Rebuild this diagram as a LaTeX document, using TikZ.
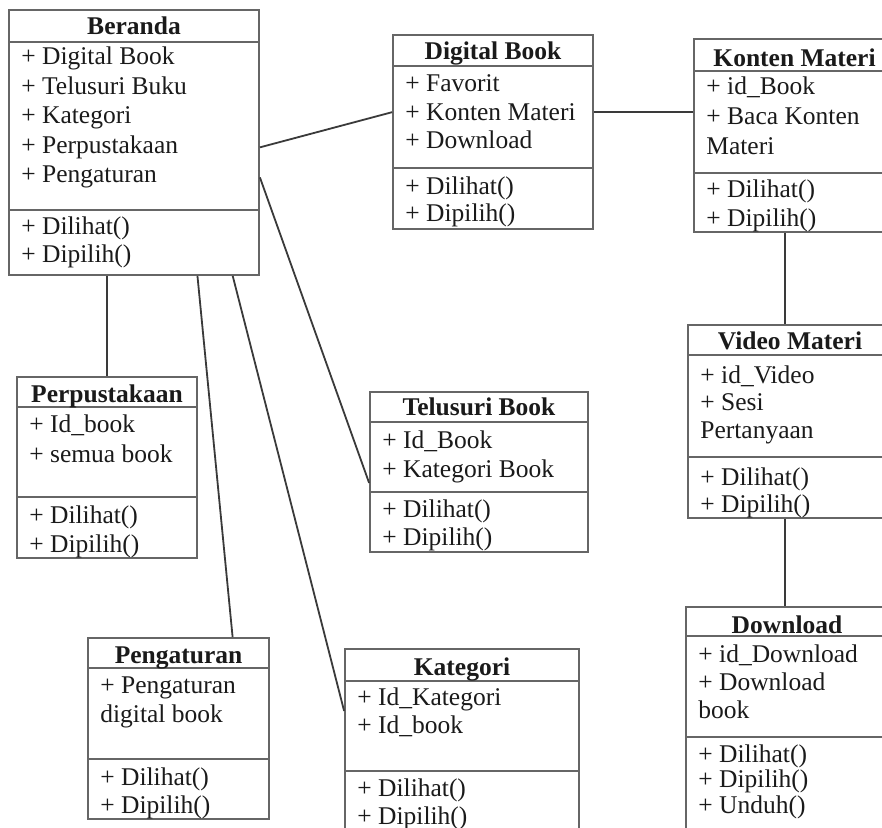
\documentclass[tikz,border=0pt]{standalone}
\usepackage{fontspec}
\setmainfont{Liberation Serif}
\usetikzlibrary{fit,calc}
\definecolor{boxgray}{HTML}{666666}
\definecolor{linegray}{HTML}{3A3A3A}
\definecolor{inkc}{HTML}{1A1A1A}
\tikzset{
  boxline/.style={draw=boxgray, line width=0.9pt},
  link/.style={draw=linegray, line width=0.9pt},
  rowtxt/.style={anchor=base west, inner sep=0pt, text=inkc, font=\fontsize{12.75}{15}\selectfont},
  titletxt/.style={rowtxt, anchor=base, font=\fontsize{12.75}{15}\selectfont\bfseries},
}
% class box: name, left, top, right, bottom, title line, method line, title, title baseline
\newcommand{\umlbox}[9]{%
  \node[boxline, inner sep=0pt, fit={(#2,#3) (#4,#5)}] (#1) {};
  \draw[boxline] (#2,#6) -- (#4,#6);
  \draw[boxline] (#2,#7) -- (#4,#7);
  \node[titletxt] (#1-t) at ({(#2+#4)/2},#9) {#8};
}
% rows of text: name, x, first baseline, spacing, items
\newcommand{\rows}[5]{%
  \foreach \itm [count=\i] in {#5}
    \node[rowtxt] (#1\i) at (#2,{#3+#4*(\i-1)}) {\itm};
}

\begin{document}
\begin{tikzpicture}[x=0.5pt,y=-0.5pt]
\useasboundingbox (0,0) rectangle (882,828);
\fill[white] (0,0) rectangle (882,828);
\clip (0,0) rectangle (882,828);

% classes
\umlbox{beranda}{9}{10}{259}{275}{42}{210}{Beranda}{35}
\rows{beranda}{21}{65}{29.5}{+ Digital Book, + Telusuri Buku, + Kategori, + Perpustakaan, + Pengaturan}
\rows{berandam}{21}{235}{28}{+ Dilihat(), + Dipilih()}

\umlbox{digital}{393}{35}{593}{229}{66}{168}{Digital Book}{60}
\rows{digital}{405}{92}{28.5}{+ Favorit, + Konten Materi, + Download}
\rows{digitalm}{405}{195}{27}{+ Dilihat(), + Dipilih()}

\umlbox{konten}{694}{39}{895}{232}{71}{173}{Konten Materi}{67}
\rows{konten}{706}{95}{30}{+ id\_Book, + Baca Konten, Materi}
\rows{kontenm}{706}{198}{29}{+ Dilihat(), + Dipilih()}

\umlbox{video}{688}{325}{892}{518}{355}{457}{Video Materi}{350}
\rows{video}{700}{383}{27.5}{+ id\_Video, + Sesi, Pertanyaan}
\rows{videom}{700}{485}{27}{+ Dilihat(), + Dipilih()}

\umlbox{download}{686}{607}{888}{860}{636}{737}{Download}{633}
\rows{download}{698}{662}{28}{+ id\_Download, + Download, book}
\rows{downloadm}{698}{762}{25.5}{+ Dilihat(), + Dipilih(), + Unduh()}

\umlbox{perpus}{17}{377}{197}{558}{407}{497}{Perpustakaan}{402}
\rows{perpus}{29}{432}{30}{+ Id\_book, + semua book}
\rows{perpusm}{29}{523}{29}{+ Dilihat(), + Dipilih()}

\umlbox{telusuri}{370}{392}{588}{552}{422}{492}{Telusuri Book}{415}
\rows{telusuri}{382}{448}{29}{+ Id\_Book, + Kategori Book}
\rows{telusurim}{382}{517}{28}{+ Dilihat(), + Dipilih()}

\umlbox{pengaturan}{88}{638}{269}{819}{668}{759}{Pengaturan}{663}
\rows{pengaturan}{100}{693}{29}{+ Pengaturan, digital book}
\rows{pengaturanm}{100}{785}{28}{+ Dilihat(), + Dipilih()}

\umlbox{kategori}{345}{649}{579}{860}{681}{771}{Kategori}{675}
\rows{kategori}{357}{705}{28}{+ Id\_Kategori, + Id\_book}
\rows{kategorim}{357}{796}{28}{+ Dilihat(), + Dipilih()}

% links
\draw[link] (beranda.east |- beranda4) -- (digital.west |- digital2);
\draw[link] (digital.east |- digital2) -- (konten.west |- digital2);
\draw[link] (beranda.east |- beranda5) -- (telusuri.west |- telusuri2.south);
\draw[link] ($(beranda.south west)!.892!(beranda.south east)$) -- (kategori.west |- kategori1.south);
\draw[link] ($(beranda.south west)!.752!(beranda.south east)$) -- ($(pengaturan.north west)!.796!(pengaturan.north east)$);
\draw[link] (beranda.south -| perpus.north) -- (perpus.north);
\coordinate (kv) at ($(konten.south west)!.453!(konten.south east)$);
\draw[link] (kv) -- (video.north -| kv);
\draw[link] (video.south -| kv) -- (download.north -| kv);
\end{tikzpicture}
\end{document}
